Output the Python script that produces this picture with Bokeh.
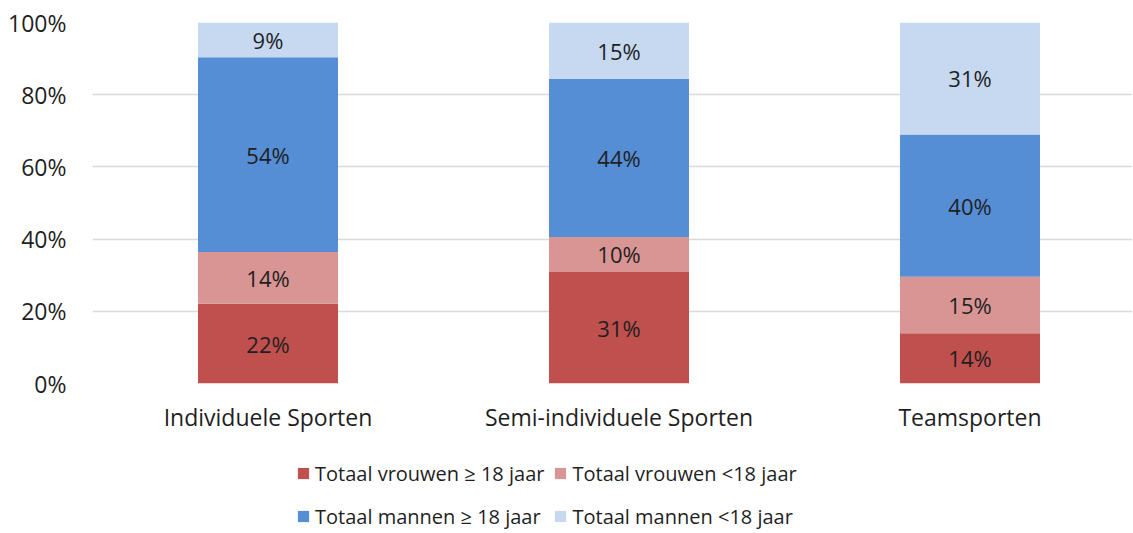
from bokeh.plotting import figure
from bokeh.layouts import column
from bokeh.models import ColumnDataSource, FixedTicker, Legend, LegendItem, Range1d
from bokeh.embed import file_html
from bokeh.resources import INLINE
from bokeh.core.properties import value

categories = ["Individuele Sporten", "Semi-individuele Sporten", "Teamsporten"]
series = ["Totaal vrouwen \u2265 18 jaar", "Totaal vrouwen <18 jaar",
          "Totaal mannen \u2265 18 jaar", "Totaal mannen <18 jaar"]
vrouwen_18plus = [22.1, 30.9, 13.9]
vrouwen_u18 = [14.3, 9.7, 15.7]
mannen_18plus = [54.0, 43.8, 39.4]
mannen_u18 = [9.6, 15.6, 31.0]
label_vrouwen_18plus = ["22%", "31%", "14%"]
label_vrouwen_u18 = ["14%", "10%", "15%"]
label_mannen_18plus = ["54%", "44%", "40%"]
label_mannen_u18 = ["9%", "15%", "31%"]
colors = ["#C0504D", "#D99594", "#558ED5", "#C6D9F1"]
y_ticks = [0, 20, 40, 60, 80, 100]

FONT = "Open Sans"
TXT = "#1f1f1f"

values = [vrouwen_18plus, vrouwen_u18, mannen_18plus, mannen_u18]
texts = [label_vrouwen_18plus, label_vrouwen_u18, label_mannen_18plus, label_mannen_u18]
keys = ["s0", "s1", "s2", "s3"]
xs = [i + 0.5 for i in range(len(categories))]

data = {"x": xs}
for k, v in zip(keys, values):
    data[k] = v
source = ColumnDataSource(data)

# ---------------- main chart ----------------
p = figure(frame_width=1040, frame_height=361,
           x_range=Range1d(0, 1040 / 351), y_range=Range1d(0, 100),
           output_backend="svg", toolbar_location=None,
           min_border_left=92, min_border_right=0, min_border_top=22,
           min_border_bottom=64)
p.outline_line_color = None
p.background_fill_color = "white"
p.border_fill_color = "white"

renderers = p.vbar_stack(keys, x="x", width=140 / 351, color=colors,
                         line_color=None, source=source)

lx, ly, lt = [], [], []
for j in range(len(categories)):
    base = 0.0
    for v, t in zip(values, texts):
        lx.append(xs[j])
        ly.append(base + v[j] / 2)
        lt.append(t[j])
        base += v[j]
p.text(x=lx, y=ly, text=lt, text_align="center", text_baseline="middle",
       text_font=value(FONT), text_font_size="22px", text_color=TXT)

p.xgrid.grid_line_color = None
p.ygrid.grid_line_color = "#d9d9d9"
p.ygrid.grid_line_width = 1.3
p.ygrid.ticker = FixedTicker(ticks=y_ticks)

p.yaxis.ticker = FixedTicker(ticks=y_ticks)
p.yaxis.major_label_overrides = {t: f"{t}%" for t in y_ticks}
p.xaxis.ticker = FixedTicker(ticks=xs)
p.xaxis.major_label_overrides = {x: c for x, c in zip(xs, categories)}
for ax in (p.xaxis[0], p.yaxis[0]):
    ax.axis_line_color = None
    ax.major_tick_line_color = None
    ax.minor_tick_line_color = None
    ax.major_tick_out = 0
    ax.major_tick_in = 0
    ax.major_label_text_font = FONT
    ax.major_label_text_font_size = "23px"
    ax.major_label_text_color = TXT
p.yaxis.major_label_standoff = 26
p.xaxis.major_label_standoff = 17

# ---------------- legend strip ----------------
H2 = 85
p2 = figure(width=1132, height=H2, x_range=Range1d(0, 3), y_range=Range1d(1000, 1001),
            output_backend="svg", toolbar_location=None,
            x_axis_location=None, y_axis_location=None, min_border=0)
p2.outline_line_color = None
p2.grid.visible = False
leg_renderers = p2.vbar_stack(keys, x="x", width=0.4, color=colors,
                              line_color=None, source=source)

legend = Legend(items=[LegendItem(label=s, renderers=[r]) for s, r in zip(series, leg_renderers)],
                location=(204, -1), orientation="horizontal", ncols=2,
                label_text_font=FONT, label_text_font_size="20px",
                label_text_color=TXT, glyph_width=14, glyph_height=14,
                label_standoff=5, label_height=34, label_width=227, spacing=9,
                padding=0, margin=0, border_line_color=None,
                background_fill_alpha=0)
p2.add_layout(legend)

layout = column(p, p2, spacing=0)
open("out.html", "w").write(file_html(layout, INLINE))
